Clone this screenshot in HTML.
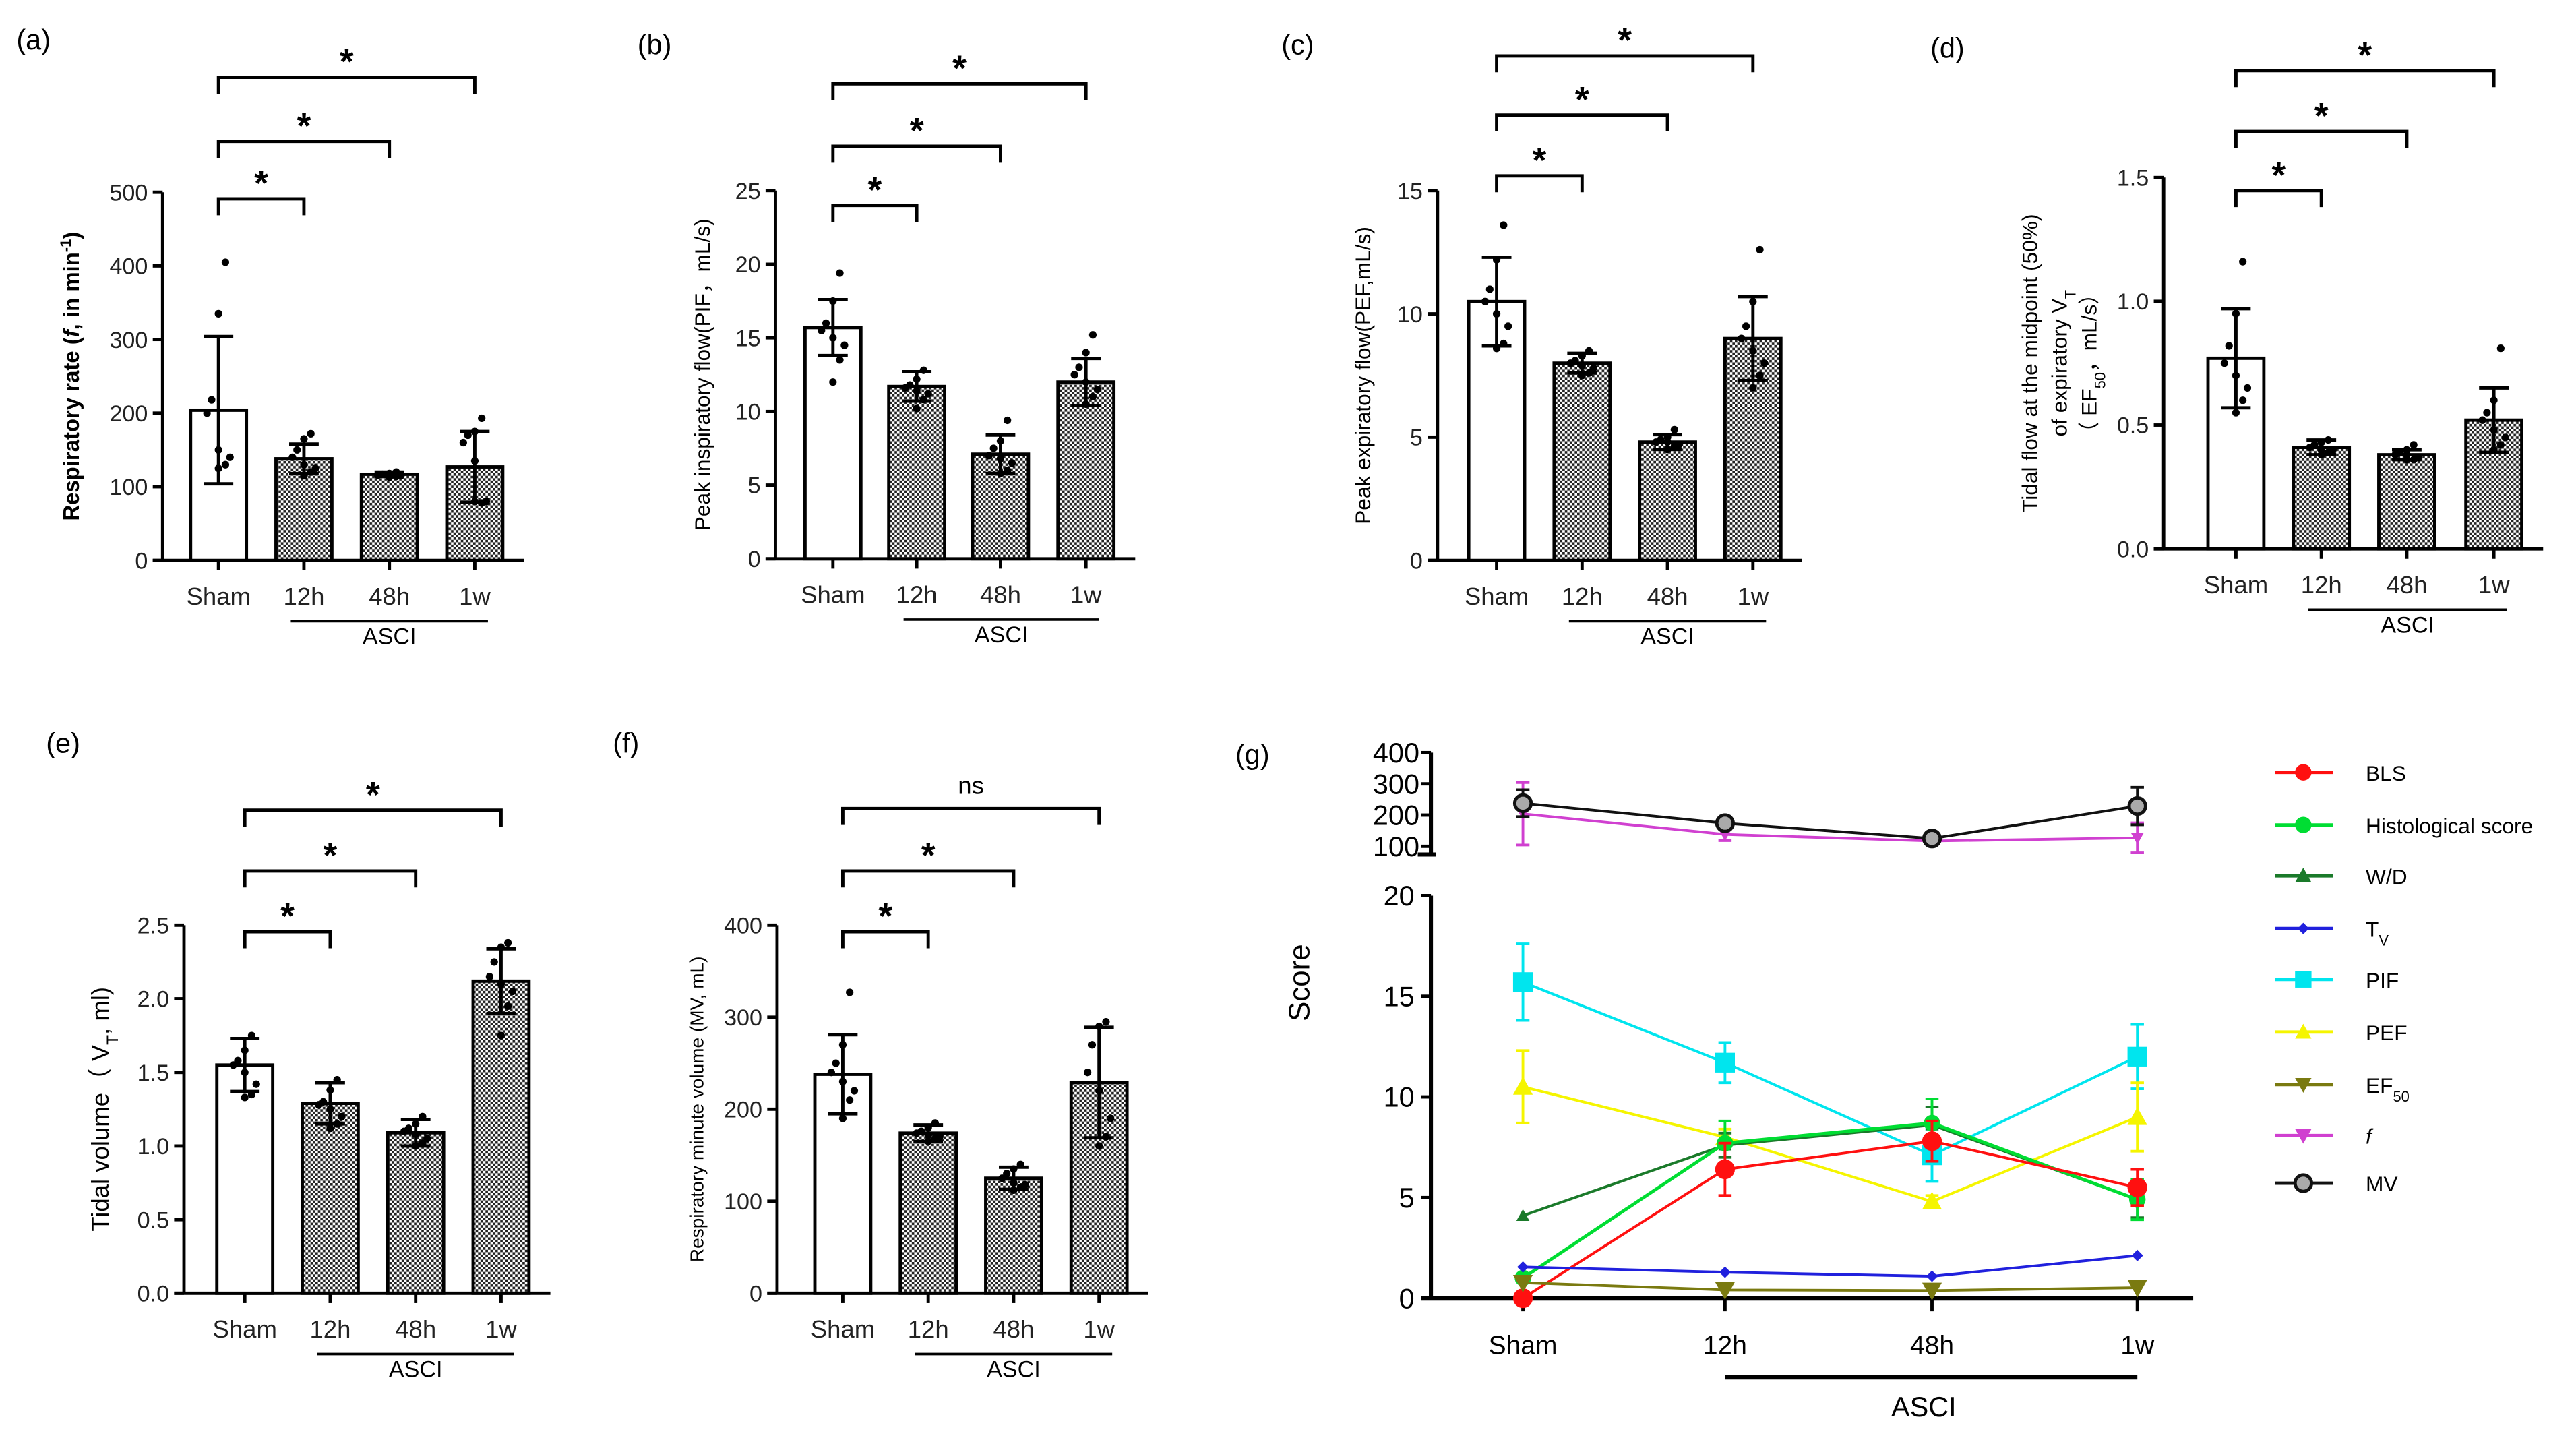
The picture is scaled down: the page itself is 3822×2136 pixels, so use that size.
<!DOCTYPE html>
<html><head><meta charset="utf-8">
<style>
html,body{margin:0;padding:0;background:#fff;}
svg{display:block;font-family:"Liberation Sans",Arial,sans-serif;}
</style></head>
<body>
<svg id="fig" width="3822" height="2136" viewBox="0 0 1568 876.3" xmlns="http://www.w3.org/2000/svg">
<defs>
<pattern id="chk" width="3" height="3" patternUnits="userSpaceOnUse">
<rect width="3" height="3" fill="#fff"/><rect width="1.5" height="1.5" fill="#222"/><rect x="1.5" y="1.5" width="1.5" height="1.5" fill="#222"/>
</pattern>
</defs>
</svg>
<script>
const cats=["Sham","12h","48h","1w"];
// panel a
const aMeans=[204,138,117,127]; const aSD=[100,20,3,48];
const aDots=[[405,335,218,200,150,140,130,125],[172,165,150,140,130,125,120,115],[120,118,117,116,115,115,114,113],[193,175,170,160,135,80,78,80]];
const aTicks=[0,100,200,300,400,500];
// panel b
const bMeans=[15.7,11.7,7.1,12.0]; const bSD=[1.9,1.0,1.3,1.6];
const bDots=[[19.4,17.5,16,15.5,15,14.5,13.5,12],[12.8,12.2,11.8,11.6,11.4,11.2,10.8,10.2],[9.4,8,7.5,7,6.8,6.5,6,5.8],[15.2,14,13,12.5,12,11.5,11,10.5]];
const bTicks=[0,5,10,15,20,25];
// panel c
const cMeans=[10.5,8.0,4.8,9.0]; const cSD=[1.8,0.4,0.3,1.7];
const cDots=[[13.6,12.2,11,10.5,10,9.5,8.8,8.6],[8.5,8.3,8.1,8,7.9,7.8,7.6,7.5],[5.3,5,4.9,4.8,4.8,4.7,4.6,4.5],[12.6,10.5,9.5,9,8.5,8,7.5,7]];
const cTicks=[0,5,10,15];
// panel d
const dMeans=[0.77,0.41,0.38,0.52]; const dSD=[0.20,0.03,0.02,0.13];
const dDots=[[1.16,0.95,0.82,0.75,0.7,0.65,0.6,0.55],[0.44,0.43,0.42,0.41,0.4,0.4,0.39,0.38],[0.42,0.4,0.39,0.38,0.38,0.37,0.36,0.36],[0.81,0.6,0.55,0.52,0.48,0.45,0.42,0.4]];
const dTicks=[0,0.5,1.0,1.5];
// panel e
const eMeans=[1.55,1.29,1.09,2.12]; const eSD=[0.18,0.14,0.09,0.22];
const eDots=[[1.75,1.65,1.58,1.55,1.5,1.42,1.35,1.33],[1.45,1.38,1.3,1.28,1.25,1.2,1.15,1.12],[1.2,1.15,1.12,1.1,1.08,1.05,1.02,1.0],[2.38,2.35,2.25,2.15,2.1,2.05,1.95,1.75]];
const eTicks=[0,0.5,1.0,1.5,2.0,2.5];
// panel f
const fMeans=[238,174,125,229]; const fSD=[43,9,12,60];
const fDots=[[327,270,250,240,230,220,210,190],[185,180,176,174,172,170,168,165],[140,135,130,125,120,118,115,112],[295,290,270,240,220,190,170,160]];
const fTicks=[0,100,200,300,400];
// panel g
const gCats=["Sham","12h","48h","1w"];
const gBLS=[0,6.4,7.8,5.5]; const gBLSerr=[0,1.3,1.0,0.9];
const gHist=[1.0,7.7,8.7,4.9]; const gHisterr=[0,1.1,1.2,1.0];
const gWD=[4.1,7.6,8.6,4.9]; const gWDerr=[0,0.6,0.9,0.9];
const gTv=[1.55,1.29,1.09,2.12];
const gPIF=[15.7,11.7,7.1,12.0]; const gPIFerr=[1.9,1.0,1.3,1.6];
const gPEF=[10.5,8.0,4.8,9.0]; const gPEFerr=[1.8,0.4,0.3,1.7];
const gEF=[0.77,0.41,0.38,0.52];
const gF=[204,138,117,127]; const gFerr=[100,20,3,48];
const gMV=[238,174,125,229]; const gMVerr=[43,9,12,60];
const gLowTicks=[0,5,10,15,20];
const gUpTicks=[100,200,300,400];

const NS="http://www.w3.org/2000/svg";
const svg=document.getElementById('fig');
function mk(tag,attrs,parent,text){const e=document.createElementNS(NS,tag);for(const k in attrs)e.setAttribute(k,attrs[k]);if(text!==undefined)e.textContent=text;(parent||svg).appendChild(e);return e;}

function barPanel(p){
  const g=mk('g',{},svg);
  
  
  const y=v=>p.y0+(v-0)/(p.ymax)*(p.y1-p.y0);
  const lab=mk('text',{x:p.lx,y:p.ly,'font-size':17},g,p.label);
  
  
  // axes
  const ya=mk('line',{x1:p.ax,y1:p.y1,x2:p.ax,y2:p.y0,stroke:'#000','stroke-width':2},g);
  
  
  const xa=mk('line',{x1:p.ax-6,y1:p.y0,x2:p.xs[3]+30,y2:p.y0,stroke:'#000','stroke-width':2},g);
  
  
  p.ticks.forEach(t=>{
    mk('line',{x1:p.ax-6,x2:p.ax,y1:y(t),y2:y(t),stroke:'#000','stroke-width':2},g);
    const tl=mk('text',{x:p.ax-9,y:y(t)+5,'font-size':14,'text-anchor':'end',fill:'#222'},g,p.fmt(t));
    
    
  });
  const bw=34;
  p.means.forEach((m,i)=>{
    const cx=p.xs[i];
    const b=mk('rect',{x:cx-bw/2,y:y(m),width:bw,height:p.y0-y(m),fill:i?'url(#chk)':'#fff',stroke:'#000','stroke-width':2},g);
    
    
    mk('line',{x1:cx,x2:cx,y1:y(m-p.sd[i]),y2:y(m+p.sd[i]),stroke:'#000','stroke-width':2},g);
    mk('line',{x1:cx-9,x2:cx+9,y1:y(m+p.sd[i]),y2:y(m+p.sd[i]),stroke:'#000','stroke-width':2},g);
    mk('line',{x1:cx-9,x2:cx+9,y1:y(m-p.sd[i]),y2:y(m-p.sd[i]),stroke:'#000','stroke-width':2},g);
    p.dots[i].forEach((d,j)=>{
      const dc=mk('circle',{cx:cx+((j%3)-1)*7*((j%2)?1:-0.6),cy:y(d),r:2.3,fill:'#000'},g);
      
      
    });
    mk('line',{x1:cx,x2:cx,y1:p.y0,y2:p.y0+6,stroke:'#000','stroke-width':2},g);
    const xl=mk('text',{x:cx,y:p.y0+27,'font-size':15,'text-anchor':'middle',fill:'#222'},g,cats[i]);
    
    
  });
  // ASCI
  mk('line',{x1:p.xs[1]-8,x2:p.xs[3]+8,y1:p.y0+37,y2:p.y0+37,stroke:'#000','stroke-width':1.5},g);
  const as=mk('text',{x:(p.xs[1]+p.xs[3])/2,y:p.y0+51,'font-size':14,'text-anchor':'middle'},g,'ASCI');
  
  
  // brackets
  p.br.forEach((by,k)=>{
    const x2=p.xs[k+1];
    mk('path',{d:`M${p.xs[0]},${by+10}V${by}H${x2}V${by+10}`,fill:'none',stroke:'#000','stroke-width':2},g);
    const s=mk('text',{x:(p.xs[0]+x2)/2,y:by-(p.sig[k]==='ns'?9:2),'font-size':p.sig[k]==='ns'?15:22,'font-weight':'bold','text-anchor':'middle'},g,p.sig[k]);
    if(p.sig[k]==='ns')s.setAttribute('font-weight','normal');
    
    
  });
  // title
  const tg=mk('text',{transform:`translate(${p.tx},${(p.y0+p.y1)/2}) rotate(-90)`,'font-size':p.tfs||13,'text-anchor':'middle'},g);
  
  
  tg.innerHTML=p.title;
}

barPanel({name:'panel-a-respiratory-rate',label:'(a)',lx:10,ly:30,ax:99,y0:341,y1:117,ymax:500,ticks:aTicks,fmt:t=>t,xs:[133,185,237,289],means:aMeans,sd:aSD,dots:aDots,br:[121,86,47],sig:['*','*','*'],tx:48,tfs:13.5,title:'<tspan font-weight="bold">Respiratory rate (</tspan><tspan font-style="italic" font-weight="bold">f</tspan><tspan font-weight="bold">, in min</tspan><tspan baseline-shift="super" font-size="9" font-weight="bold">-1</tspan><tspan font-weight="bold">)</tspan>'});
barPanel({name:'panel-b-pif',label:'(b)',lx:388,ly:33,ax:472,y0:340,y1:116,ymax:25,ticks:bTicks,fmt:t=>t,xs:[507,558,609,661],means:bMeans,sd:bSD,dots:bDots,br:[125,89,51],sig:['*','*','*'],tx:432,title:'Peak inspiratory flow(PIF，mL/s)'});
barPanel({name:'panel-c-pef',label:'(c)',lx:780,ly:33,ax:875,y0:341,y1:116,ymax:15,ticks:cTicks,fmt:t=>t,xs:[911,963,1015,1067],means:cMeans,sd:cSD,dots:cDots,br:[107,70,34],sig:['*','*','*'],tx:834,title:'Peak expiratory flow(PEF,mL/s)'});
barPanel({name:'panel-d-ef50',label:'(d)',lx:1175,ly:35,ax:1317,y0:334,y1:108,ymax:1.5,ticks:dTicks,fmt:t=>t.toFixed(1),xs:[1361,1413,1465,1518],means:dMeans,sd:dSD,dots:dDots,br:[116,80,43],sig:['*','*','*'],tx:1240,title:'Tidal flow at the midpoint (50%)'});
mk('text',{transform:'translate(1258,221) rotate(-90)','font-size':13,'text-anchor':'middle'},svg,'of expiratory V').innerHTML='of expiratory V<tspan baseline-shift="sub" font-size="9">T</tspan>';
mk('text',{transform:'translate(1276,221) rotate(-90)','font-size':13,'text-anchor':'middle'},svg).innerHTML='（ EF<tspan baseline-shift="sub" font-size="9">50</tspan>，mL/s）';
barPanel({name:'panel-e-tidal-volume',label:'(e)',lx:28,ly:458,ax:112,y0:787,y1:563,ymax:2.5,ticks:eTicks,fmt:t=>t.toFixed(1),xs:[149,201,253,305],means:eMeans,sd:eSD,dots:eDots,br:[567,530,493],sig:['*','*','*'],tx:66,tfs:15,title:'Tidal volume（ V<tspan baseline-shift="sub" font-size="10">T</tspan>, ml)'});
barPanel({name:'panel-f-minute-volume',label:'(f)',lx:373,ly:458,ax:473,y0:787,y1:563,ymax:400,ticks:fTicks,fmt:t=>t,xs:[513,565,617,669],means:fMeans,sd:fSD,dots:fDots,br:[567,530,492],sig:['*','*','ns'],tx:428,tfs:11.5,title:'Respiratory minute volume (MV, mL)'});

// panel g
(function(){
  const g=mk('g',{},svg);
  
  
  const ax=871, xs=[927,1050,1176,1301];
  const yL=v=>790-v/20*245;
  const yU=v=>515-(v-100)/300*57;
  const l=mk('text',{x:752,y:465,'font-size':17},g,'(g)');
  
  
  mk('line',{x1:ax,x2:ax,y1:yU(400),y2:520,stroke:'#000','stroke-width':2.5},g);
  mk('line',{x1:ax-8,x2:ax+3,y1:520,y2:520,stroke:'#000','stroke-width':2.5},g);
  mk('line',{x1:ax,x2:ax,y1:yL(20),y2:yL(0),stroke:'#000','stroke-width':2.5},g);
  mk('line',{x1:ax-6,x2:1335,y1:yL(0),y2:yL(0),stroke:'#000','stroke-width':3},g);
  gUpTicks.forEach(t=>{mk('line',{x1:ax-6,x2:ax,y1:yU(t),y2:yU(t),stroke:'#000','stroke-width':2},g);
    const tl=mk('text',{x:ax-7,y:yU(t)+6,'font-size':17,'text-anchor':'end'},g,t);
    
    });
  gLowTicks.forEach(t=>{mk('line',{x1:ax-6,x2:ax,y1:yL(t),y2:yL(t),stroke:'#000','stroke-width':2},g);
    const tl=mk('text',{x:ax-10,y:yL(t)+6,'font-size':17,'text-anchor':'end'},g,t);
    
    });
  xs.forEach((x,i)=>{mk('line',{x1:x,x2:x,y1:yL(0),y2:yL(0)+8,stroke:'#000','stroke-width':2},g);
    const tl=mk('text',{x:x,y:824,'font-size':16,'text-anchor':'middle'},g,gCats[i]);
    
    });
  mk('line',{x1:1050,x2:1301,y1:838,y2:838,stroke:'#000','stroke-width':3},g);
  const as=mk('text',{x:1171,y:862,'font-size':17,'text-anchor':'middle'},g,'ASCI');
  
  
  const st=mk('text',{transform:'translate(797,598) rotate(-90)','font-size':18,'text-anchor':'middle'},g,'Score');
  
  
  function marker(shape,x,y,c,s){
    if(shape==='circle')return mk('circle',{cx:x,cy:y,r:s,fill:c},g);
    if(shape==='ocircle')return mk('circle',{cx:x,cy:y,r:s,fill:'#aaa',stroke:c,'stroke-width':2},g);
    if(shape==='square')return mk('rect',{x:x-s,y:y-s,width:2*s,height:2*s,fill:c},g);
    if(shape==='tri')return mk('path',{d:`M${x},${y-s}L${x+s},${y+s*0.8}L${x-s},${y+s*0.8}Z`,fill:c},g);
    if(shape==='itri')return mk('path',{d:`M${x},${y+s}L${x+s},${y-s*0.8}L${x-s},${y-s*0.8}Z`,fill:c},g);
    if(shape==='diamond')return mk('path',{d:`M${x},${y-s}L${x+s},${y}L${x},${y+s}L${x-s},${y}Z`,fill:c},g);
  }
  function series(name,vals,errs,yf,color,shape,size,lw){
    const pts=vals.map((v,i)=>[xs[i],yf(v)]);
    const pl=mk('polyline',{points:pts.map(p=>p.join(',')).join(' '),fill:'none',stroke:color,'stroke-width':lw||1.6},g);
    
    
    vals.forEach((v,i)=>{
      if(errs&&errs[i]>0){const x=xs[i];mk('path',{d:`M${x},${yf(v-errs[i])}V${yf(v+errs[i])}M${x-4},${yf(v+errs[i])}h8M${x-4},${yf(v-errs[i])}h8`,stroke:color,'stroke-width':1.6,fill:'none'},g);}
      const m=marker(shape,xs[i],yf(v),color,size);
      
      
    });
  }
  series('pif',gPIF,gPIFerr,yL,'#00e5ee','square',6);
  series('pef',gPEF,gPEFerr,yL,'#f5f500','tri',6);
  series('wd',gWD,gWDerr,yL,'#1a7a2a','tri',4);
  series('histological',gHist,gHisterr,yL,'#00dd33','circle',5,2);
  series('bls',gBLS,gBLSerr,yL,'#ff1010','circle',6);
  series('tv',gTv,null,yL,'#2020dd','diamond',3.5);
  series('ef50',gEF,null,yL,'#7a7a10','itri',6);
  series('f',gF,gFerr,yU,'#d040d0','itri',4);
  series('mv',gMV,gMVerr,yU,'#111','ocircle',5);
  // legend
  const leg=[['BLS','#ff1010','circle'],['Histological score','#00dd33','circle'],['W/D','#1a7a2a','tri'],['T<tspan baseline-shift="sub" font-size="9">V</tspan>','#2020dd','diamond'],['PIF','#00e5ee','square'],['PEF','#f5f500','tri'],['EF<tspan baseline-shift="sub" font-size="9">50</tspan>','#7a7a10','itri'],['<tspan font-style="italic">f</tspan>','#d040d0','itri'],['MV','#111','ocircle']];
  const ly=[470,502,533,565,596,628,660,691,720];
  leg.forEach((e,i)=>{
    const lg=mk('g',{},g);
    
    
    mk('line',{x1:1385,x2:1420,y1:ly[i],y2:ly[i],stroke:e[1],'stroke-width':2},lg);
    const m=marker(e[2],1402,ly[i],e[1],e[2]==='diamond'?3.5:5);lg.appendChild(m);
    const t=mk('text',{x:1440,y:ly[i]+5,'font-size':13},lg);t.innerHTML=e[0];
  });
})();
</script>
</body></html>
